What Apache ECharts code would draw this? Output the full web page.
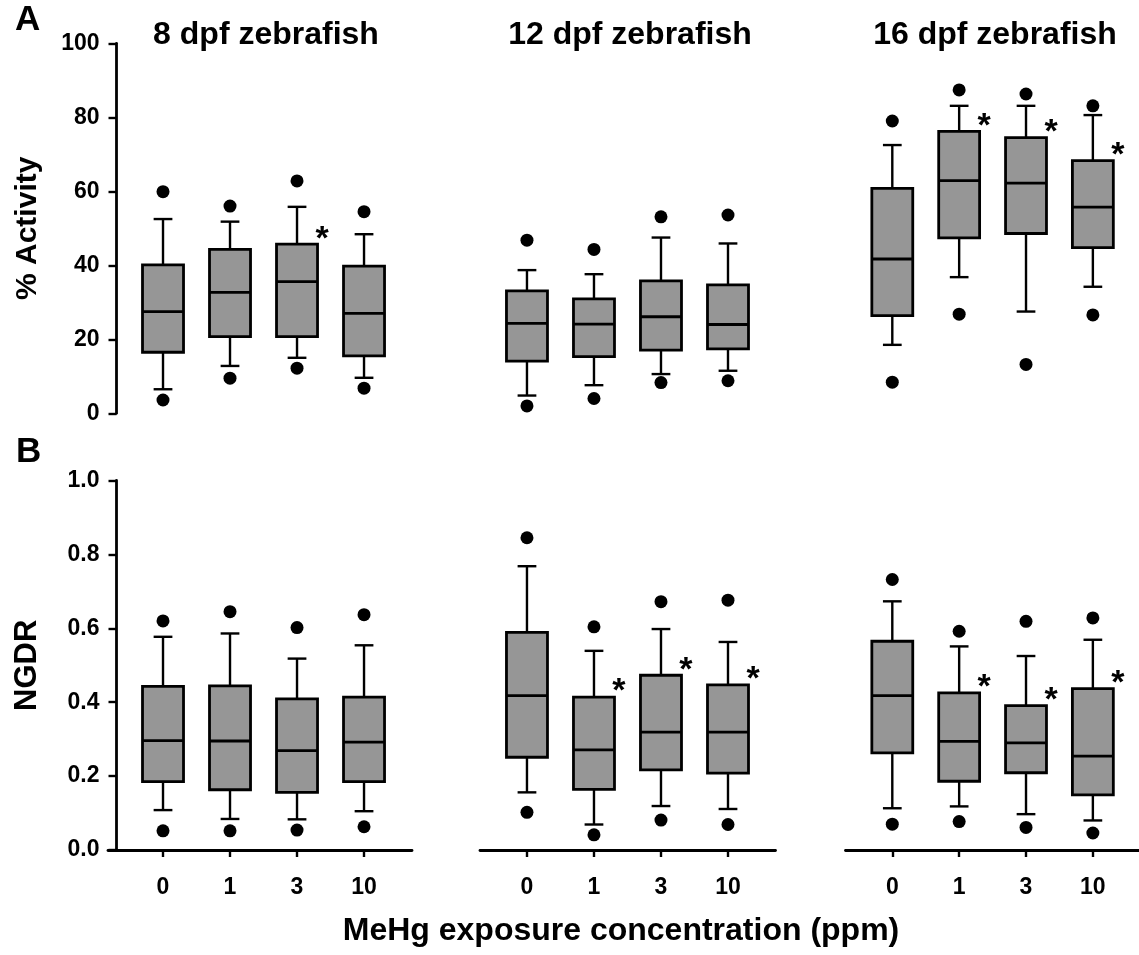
<!DOCTYPE html>
<html>
<head>
<meta charset="utf-8">
<script src="https://cdn.jsdelivr.net/npm/echarts@6/dist/echarts.min.js"></script>
<style>
html,body{margin:0;padding:0;background:#fff;}
#chart{width:1139px;height:955px;}
</style>
</head>
<body>
<div id="chart"></div>
<script>
// ---- data ----
const categories = ['0', '1', '3', '10'];
const panelTitles = ['8 dpf zebrafish', '12 dpf zebrafish', '16 dpf zebrafish'];
const activityTicks = [0, 20, 40, 60, 80, 100];
const ngdrTicks = [0.0, 0.2, 0.4, 0.6, 0.8, 1.0];

// box stats: [min whisker, Q1, median, Q3, max whisker]
const act8 = [[6.5,16.5,27.5,40.1,52.5],[12.8,20.7,32.7,44.3,51.8],[15.0,20.7,35.6,45.7,55.8],[9.6,15.5,27.0,39.8,48.4]];
const act8Out = [[3.6,59.9],[9.5,56.0],[12.2,62.8],[6.8,54.5]];
const act8Sig = [0,0,1,0];
const act12 = [[4.8,14.1,24.3,33.1,38.7],[7.6,15.3,24.1,30.9,37.6],[10.6,17.1,26.1,35.8,47.5],[11.5,17.4,24.0,34.7,45.9]];
const act12Out = [[2.0,46.8],[4.0,44.3],[8.3,53.1],[8.8,53.6]];
const act12Sig = [0,0,0,0];
const act16 = [[18.5,26.4,41.7,60.8,72.5],[36.8,47.4,62.9,76.2,83.1],[27.5,48.6,62.2,74.5,83.1],[34.2,44.8,55.7,68.3,80.6]];
const act16Out = [[8.4,79.0],[26.8,87.4],[13.2,86.3],[26.6,83.1]];
const act16Sig = [0,1,1,1];

const ngdr8 = [[0.108,0.185,0.296,0.443,0.577],[0.084,0.163,0.295,0.444,0.586],[0.083,0.156,0.269,0.409,0.518],[0.105,0.185,0.292,0.414,0.554]];
const ngdr8Out = [[0.052,0.620],[0.052,0.645],[0.054,0.602],[0.063,0.637]];
const ngdr8Sig = [0,0,0,0];
const ngdr12 = [[0.156,0.251,0.418,0.589,0.768],[0.069,0.164,0.271,0.414,0.539],[0.119,0.217,0.319,0.473,0.598],[0.111,0.208,0.319,0.447,0.563]];
const ngdr12Out = [[0.102,0.845],[0.041,0.604],[0.081,0.672],[0.069,0.676]];
const ngdr12Sig = [0,1,1,1];
const ngdr16 = [[0.113,0.263,0.418,0.565,0.673],[0.118,0.186,0.294,0.425,0.551],[0.097,0.209,0.290,0.391,0.525],[0.080,0.149,0.254,0.437,0.569]];
const ngdr16Out = [[0.070,0.732],[0.077,0.592],[0.061,0.619],[0.046,0.628]];
const ngdr16Sig = [0,1,1,1];

// ---- layout ----
const FONT = '"Liberation Sans", Arial, sans-serif';
const BOX_W = 0.612, CAP_W = 0.28;
const cols = [
  {left: 108, width: 304, min: -0.821, max: 3.716},
  {left: 480, width: 295.5, min: -0.701, max: 3.709},
  {left: 845.5, width: 293.5, min: -0.70, max: 3.69}
];
const rows = [{top: 43.3, height: 370}, {top: 480.5, height: 369.5}];

const panels = [
  {row:0, col:0, box:act8, out:act8Out, sig:act8Sig},
  {row:0, col:1, box:act12, out:act12Out, sig:act12Sig},
  {row:0, col:2, box:act16, out:act16Out, sig:act16Sig},
  {row:1, col:0, box:ngdr8, out:ngdr8Out, sig:ngdr8Sig},
  {row:1, col:1, box:ngdr12, out:ngdr12Out, sig:ngdr12Sig},
  {row:1, col:2, box:ngdr16, out:ngdr16Out, sig:ngdr16Sig}
];

function renderBox(params, api) {
  const i = api.value(0);
  const c = v => api.coord([i, v]);
  const pMin = c(api.value(1)), pQ1 = c(api.value(2)), pMed = c(api.value(3)),
        pQ3 = c(api.value(4)), pMax = c(api.value(5));
  const half = api.size([BOX_W, 0])[0] / 2;
  const cap = api.size([CAP_W, 0])[0] / 2;
  const x = pMed[0];
  const ls = {stroke: '#000', lineWidth: 2.4};
  return {type: 'group', children: [
    {type: 'line', shape: {x1: x, y1: pMax[1], x2: x, y2: pQ3[1]}, style: ls},
    {type: 'line', shape: {x1: x, y1: pQ1[1], x2: x, y2: pMin[1]}, style: ls},
    {type: 'line', shape: {x1: x - cap, y1: pMax[1], x2: x + cap, y2: pMax[1]}, style: ls},
    {type: 'line', shape: {x1: x - cap, y1: pMin[1], x2: x + cap, y2: pMin[1]}, style: ls},
    {type: 'rect', shape: {x: x - half, y: pQ3[1], width: 2 * half, height: pQ1[1] - pQ3[1]},
     style: {fill: '#969696', stroke: '#000', lineWidth: 2.8}},
    {type: 'line', shape: {x1: x - half, y1: pMed[1], x2: x + half, y2: pMed[1]},
     style: {stroke: '#000', lineWidth: 2.8}}
  ]};
}

const grid = [], xAxis = [], yAxis = [], series = [];
panels.forEach((p, k) => {
  const col = cols[p.col], row = rows[p.row];
  grid.push({left: col.left, width: col.width, top: row.top, height: row.height, containLabel: false});
  const bottom = p.row === 1;
  xAxis.push({
    type: 'value', gridIndex: k, min: col.min, max: col.max, show: bottom,
    splitLine: {show: false},
    axisLine: {show: true, onZero: false, lineStyle: {color: '#000', width: 2.8}},
    axisTick: {show: true, inside: false, length: 7, lineStyle: {color: '#000', width: 2.4}, customValues: [0, 1, 2, 3]},
    axisLabel: {show: true, customValues: [0, 1, 2, 3], margin: 26,
      formatter: v => categories[Math.round(v)], color: '#000', fontFamily: FONT, fontWeight: 'bold', fontSize: 23}
  });
  const first = p.col === 0;
  yAxis.push({
    type: 'value', gridIndex: k, show: first,
    min: bottom ? ngdrTicks[0] : activityTicks[0],
    max: bottom ? ngdrTicks[ngdrTicks.length - 1] : activityTicks[activityTicks.length - 1],
    interval: bottom ? 0.2 : 20,
    offset: -8.5,
    name: first ? (bottom ? 'NGDR' : '% Activity') : '',
    nameLocation: 'middle', nameRotate: 90, nameGap: 74,
    nameTextStyle: {color: '#000', fontFamily: FONT, fontWeight: 'bold', fontSize: bottom ? 31 : 30},
    splitLine: {show: false},
    axisLine: {show: true, onZero: false, lineStyle: {color: '#000', width: 2.8}},
    axisTick: {show: true, inside: false, length: 8, lineStyle: {color: '#000', width: 2.4}},
    axisLabel: {margin: 17, color: '#000', fontFamily: FONT, fontWeight: 'bold', fontSize: 23,
      formatter: v => bottom ? v.toFixed(1) : String(v)}
  });
  series.push({
    type: 'custom', xAxisIndex: k, yAxisIndex: k, clip: false,
    renderItem: renderBox,
    encode: {x: 0, y: [1, 2, 3, 4, 5]},
    data: p.box.map((b, i) => [i].concat(b)),
    z: 2
  });
  const outs = [];
  p.out.forEach((o, i) => { o.forEach(v => outs.push([i, v])); });
  series.push({
    type: 'scatter', xAxisIndex: k, yAxisIndex: k, symbol: 'circle', symbolSize: 13,
    itemStyle: {color: '#000', opacity: 1}, data: outs, z: 3, silent: true
  });
  const stars = [];
  p.sig.forEach((s, i) => { if (s) stars.push([i, p.box[i][3]]); });
  series.push({
    type: 'scatter', xAxisIndex: k, yAxisIndex: k, symbolSize: 1, data: stars, z: 4, silent: true,
    itemStyle: {color: 'rgba(0,0,0,0)', opacity: 1},
    label: {show: true, position: 'inside', formatter: '*', offset: [25, -5],
      color: '#000', fontFamily: FONT, fontWeight: 'bold', fontSize: 34}
  });
});

const titleCenters = [266, 630, 995];
const graphic = panelTitles.map((t, i) => ({
  type: 'text', x: titleCenters[i], y: 35,
  style: {text: t, align: 'center', verticalAlign: 'middle', fill: '#000',
    font: 'bold 32px ' + FONT}
}));
graphic.push({type: 'text', x: 15, y: 20, style: {text: 'A', align: 'left', verticalAlign: 'middle', fill: '#000', font: 'bold 35px ' + FONT}});
graphic.push({type: 'text', x: 16, y: 452, style: {text: 'B', align: 'left', verticalAlign: 'middle', fill: '#000', font: 'bold 35px ' + FONT}});
graphic.push({type: 'text', x: 621, y: 931, style: {text: 'MeHg exposure concentration (ppm)', align: 'center', verticalAlign: 'middle', fill: '#000', font: 'bold 32px ' + FONT}});

const chart = echarts.init(document.getElementById('chart'), null, {renderer: 'canvas'});
chart.setOption({
  animation: false,
  backgroundColor: '#fff',
  grid, xAxis, yAxis, series, graphic
});
</script>
</body>
</html>
